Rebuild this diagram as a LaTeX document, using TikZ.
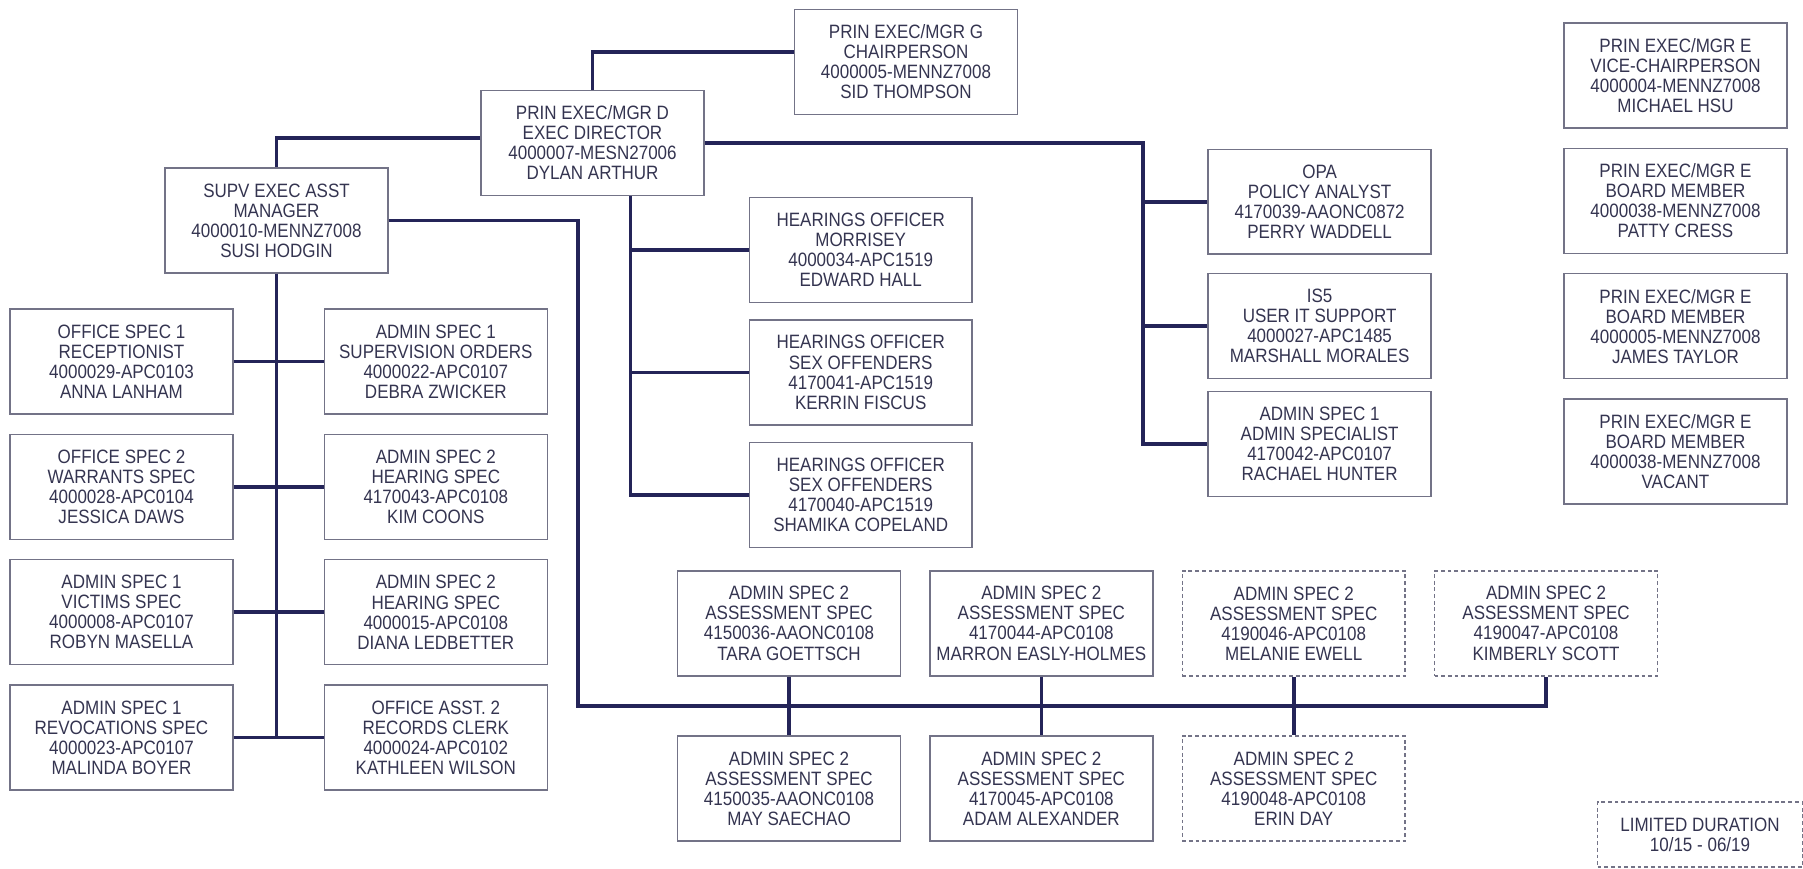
\documentclass[tikz,border=0pt]{standalone}
\usepackage{fontspec}
\setmainfont[FakeStretch=0.88]{Liberation Sans}
\usetikzlibrary{positioning}
\definecolor{orgline}{RGB}{36,36,88}
\definecolor{orgedge}{RGB}{115,115,135}
\definecolor{orgtext}{RGB}{52,52,80}
\tikzset{
  posbox/.style={draw=orgedge, line width=0.8pt, minimum width=4.46cm, minimum height=2.1cm,
    inner sep=0pt, align=center, text=orgtext, font=\fontsize{11}{11.4}\selectfont},
  ldbox/.style={posbox, dash pattern=on 2.2pt off 1.6pt},
  link/.style={draw=orgline, line width=2.1pt},
}

\begin{document}
\begin{tikzpicture}[x=0.02cm, y=-0.02cm]
\useasboundingbox (0,0) rectangle (1803,869);
\draw
    node [posbox] at (592.5,143) (dir) {PRIN EXEC/MGR D\\EXEC DIRECTOR\\4000007-MESN27006\\DYLAN ARTHUR}
    node [posbox] at (906,62) (chair) {PRIN EXEC/MGR G\\CHAIRPERSON\\4000005-MENNZ7008\\SID THOMPSON}
    node [posbox] at (276.5,220.5) (supv) {SUPV EXEC ASST\\MANAGER\\4000010-MENNZ7008\\SUSI HODGIN}
    % board members
    node [posbox] at (1675.5,75.5) (vchair) {PRIN EXEC/MGR E\\VICE-CHAIRPERSON\\4000004-MENNZ7008\\MICHAEL HSU}
    node [posbox, below=0.38cm of vchair] (bmA) {PRIN EXEC/MGR E\\BOARD MEMBER\\4000038-MENNZ7008\\PATTY CRESS}
    node [posbox, below=0.38cm of bmA] (bmB) {PRIN EXEC/MGR E\\BOARD MEMBER\\4000005-MENNZ7008\\JAMES TAYLOR}
    node [posbox, below=0.38cm of bmB] (bmC) {PRIN EXEC/MGR E\\BOARD MEMBER\\4000038-MENNZ7008\\VACANT}
    % hearings officers
    node [posbox] at (860.7,250) (hoA) {HEARINGS OFFICER\\MORRISEY\\4000034-APC1519\\EDWARD HALL}
    node [posbox, below=0.32cm of hoA] (hoB) {HEARINGS OFFICER\\SEX OFFENDERS\\4170041-APC1519\\KERRIN FISCUS}
    node [posbox, below=0.32cm of hoB] (hoC) {HEARINGS OFFICER\\SEX OFFENDERS\\4170040-APC1519\\SHAMIKA COPELAND}
    % staff to the director
    node [posbox] at (1319.6,201.7) (opa) {OPA\\POLICY ANALYST\\4170039-AAONC0872\\PERRY WADDELL}
    node [posbox] at (1319.6,326) (itsup) {IS5\\USER IT SUPPORT\\4000027-APC1485\\MARSHALL MORALES}
    node [posbox] at (1319.6,444) (admsp) {ADMIN SPEC 1\\ADMIN SPECIALIST\\4170042-APC0107\\RACHAEL HUNTER}
    % support staff, left column
    node [posbox] at (121.5,361.5) (osA) {OFFICE SPEC 1\\RECEPTIONIST\\4000029-APC0103\\ANNA LANHAM}
    node [posbox, below=0.38cm of osA] (osB) {OFFICE SPEC 2\\WARRANTS SPEC\\4000028-APC0104\\JESSICA DAWS}
    node [posbox, below=0.38cm of osB] (asV) {ADMIN SPEC 1\\VICTIMS SPEC\\4000008-APC0107\\ROBYN MASELLA}
    node [posbox, below=0.38cm of asV] (asR) {ADMIN SPEC 1\\REVOCATIONS SPEC\\4000023-APC0107\\MALINDA BOYER}
    % support staff, right column
    node [posbox, right=1.8cm of osA] (asS) {ADMIN SPEC 1\\SUPERVISION ORDERS\\4000022-APC0107\\DEBRA ZWICKER}
    node [posbox, right=1.8cm of osB] (hsA) {ADMIN SPEC 2\\HEARING SPEC\\4170043-APC0108\\KIM COONS}
    node [posbox, right=1.8cm of asV] (hsB) {ADMIN SPEC 2\\HEARING SPEC\\4000015-APC0108\\DIANA LEDBETTER}
    node [posbox, right=1.8cm of asR] (oaC) {OFFICE ASST. 2\\RECORDS CLERK\\4000024-APC0102\\KATHLEEN WILSON}
    % assessment
    node [posbox] at (789,623.3) (asmA) {ADMIN SPEC 2\\ASSESSMENT SPEC\\4150036-AAONC0108\\TARA GOETTSCH}
    node [posbox, right=0.56cm of asmA] (asmB) {ADMIN SPEC 2\\ASSESSMENT SPEC\\4170044-APC0108\\MARRON EASLY-HOLMES}
    node [ldbox, right=0.56cm of asmB] (asmC) {ADMIN SPEC 2\\ASSESSMENT SPEC\\4190046-APC0108\\MELANIE EWELL}
    node [ldbox, right=0.56cm of asmC] (asmD) {ADMIN SPEC 2\\ASSESSMENT SPEC\\4190047-APC0108\\KIMBERLY SCOTT}
    node [posbox, below=1.18cm of asmA] (asmE) {ADMIN SPEC 2\\ASSESSMENT SPEC\\4150035-AAONC0108\\MAY SAECHAO}
    node [posbox, below=1.18cm of asmB] (asmF) {ADMIN SPEC 2\\ASSESSMENT SPEC\\4170045-APC0108\\ADAM ALEXANDER}
    node [ldbox, below=1.18cm of asmC] (asmG) {ADMIN SPEC 2\\ASSESSMENT SPEC\\4190048-APC0108\\ERIN DAY}
    % legend
    node [ldbox, minimum width=4.1cm, minimum height=1.3cm] at (1700,834.5) (legend) {LIMITED DURATION\\10/15 - 06/19}
;
\coordinate (dtrunk) at ([xshift=0.76cm]dir.south);
\coordinate (rtrunk) at (1142.7,143);
\coordinate (busL) at (578.3,706);
\draw[link] (dir.north) |- ([yshift=0.2cm]chair.west);
\draw[link] ([yshift=0.1cm]dir.west) -| (supv.north);
\draw[link] (dir.east) -- (rtrunk) |- (admsp.west);
\draw[link] (rtrunk |- opa.west) -- (opa.west);
\draw[link] (rtrunk |- itsup.west) -- (itsup.west);
\draw[link] (dtrunk) |- (hoC.west);
\draw[link] (dtrunk |- hoA.west) -- (hoA.west);
\draw[link] (dtrunk |- hoB.west) -- (hoB.west);
\draw[link] (supv.south) -- (supv.south |- asR.east);
\draw[link] (osA.east) -- (asS.west);
\draw[link] (osB.east) -- (hsA.west);
\draw[link] (asV.east) -- (hsB.west);
\draw[link] (asR.east) -- (oaC.west);
\draw[link] (supv.east) -| (busL) -| (asmD.south);
\draw[link] (asmA.south) -- (asmE.north);
\draw[link] (asmB.south) -- (asmF.north);
\draw[link] (asmC.south) -- (asmG.north);
\end{tikzpicture}
\end{document}
